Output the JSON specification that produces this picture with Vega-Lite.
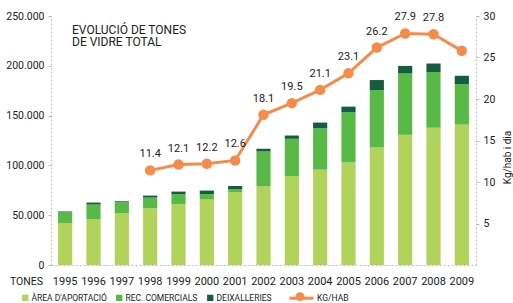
{
  "$schema": "https://vega.github.io/schema/vega-lite/v6.json",
  "width": 425,
  "height": 249,
  "autosize": {"type": "none"},
  "padding": {"left": 51, "top": 16, "right": 37, "bottom": 38},
  "background": "white",
  "config": {
    "view": {"stroke": null},
    "font": "Roboto",
    "axis": {"grid": false, "labelFont": "Roboto", "titleFont": "Roboto", "labelColor": "#222", "titleColor": "#222", "domainColor": "#bbbbbb", "domainDash": [2, 2], "tickColor": "#bbbbbb"},
    "legend": {"labelFont": "Roboto", "labelColor": "#222"},
    "title": {"font": "Roboto", "color": "#222"},
    "text": {"font": "Roboto"}
  },
  "title": {
    "text": ["EVOLUCIÓ DE TONES", "DE VIDRE TOTAL"],
    "anchor": "start",
    "frame": "group",
    "dx": 21,
    "dy": 42,
    "fontSize": 12,
    "fontWeight": "normal",
    "lineHeight": 12.5
  },
  "datasets": {
    "bars": [
      {"any": "1995", "tipus": "ÀREA D'APORTACIÓ", "ord": 1, "tones": 42000},
      {"any": "1995", "tipus": "REC. COMERCIALS", "ord": 2, "tones": 11300},
      {"any": "1995", "tipus": "DEIXALLERIES", "ord": 3, "tones": 500},
      {"any": "1996", "tipus": "ÀREA D'APORTACIÓ", "ord": 1, "tones": 46000},
      {"any": "1996", "tipus": "REC. COMERCIALS", "ord": 2, "tones": 14700},
      {"any": "1996", "tipus": "DEIXALLERIES", "ord": 3, "tones": 2000},
      {"any": "1997", "tipus": "ÀREA D'APORTACIÓ", "ord": 1, "tones": 52000},
      {"any": "1997", "tipus": "REC. COMERCIALS", "ord": 2, "tones": 11300},
      {"any": "1997", "tipus": "DEIXALLERIES", "ord": 3, "tones": 700},
      {"any": "1998", "tipus": "ÀREA D'APORTACIÓ", "ord": 1, "tones": 57000},
      {"any": "1998", "tipus": "REC. COMERCIALS", "ord": 2, "tones": 10700},
      {"any": "1998", "tipus": "DEIXALLERIES", "ord": 3, "tones": 2000},
      {"any": "1999", "tipus": "ÀREA D'APORTACIÓ", "ord": 1, "tones": 61300},
      {"any": "1999", "tipus": "REC. COMERCIALS", "ord": 2, "tones": 10000},
      {"any": "1999", "tipus": "DEIXALLERIES", "ord": 3, "tones": 2400},
      {"any": "2000", "tipus": "ÀREA D'APORTACIÓ", "ord": 1, "tones": 65700},
      {"any": "2000", "tipus": "REC. COMERCIALS", "ord": 2, "tones": 5600},
      {"any": "2000", "tipus": "DEIXALLERIES", "ord": 3, "tones": 3400},
      {"any": "2001", "tipus": "ÀREA D'APORTACIÓ", "ord": 1, "tones": 73300},
      {"any": "2001", "tipus": "REC. COMERCIALS", "ord": 2, "tones": 2700},
      {"any": "2001", "tipus": "DEIXALLERIES", "ord": 3, "tones": 3300},
      {"any": "2002", "tipus": "ÀREA D'APORTACIÓ", "ord": 1, "tones": 79000},
      {"any": "2002", "tipus": "REC. COMERCIALS", "ord": 2, "tones": 35000},
      {"any": "2002", "tipus": "DEIXALLERIES", "ord": 3, "tones": 2700},
      {"any": "2003", "tipus": "ÀREA D'APORTACIÓ", "ord": 1, "tones": 89300},
      {"any": "2003", "tipus": "REC. COMERCIALS", "ord": 2, "tones": 37400},
      {"any": "2003", "tipus": "DEIXALLERIES", "ord": 3, "tones": 3300},
      {"any": "2004", "tipus": "ÀREA D'APORTACIÓ", "ord": 1, "tones": 95700},
      {"any": "2004", "tipus": "REC. COMERCIALS", "ord": 2, "tones": 41600},
      {"any": "2004", "tipus": "DEIXALLERIES", "ord": 3, "tones": 5700},
      {"any": "2005", "tipus": "ÀREA D'APORTACIÓ", "ord": 1, "tones": 103000},
      {"any": "2005", "tipus": "REC. COMERCIALS", "ord": 2, "tones": 50300},
      {"any": "2005", "tipus": "DEIXALLERIES", "ord": 3, "tones": 5700},
      {"any": "2006", "tipus": "ÀREA D'APORTACIÓ", "ord": 1, "tones": 118000},
      {"any": "2006", "tipus": "REC. COMERCIALS", "ord": 2, "tones": 57700},
      {"any": "2006", "tipus": "DEIXALLERIES", "ord": 3, "tones": 10000},
      {"any": "2007", "tipus": "ÀREA D'APORTACIÓ", "ord": 1, "tones": 130700},
      {"any": "2007", "tipus": "REC. COMERCIALS", "ord": 2, "tones": 61600},
      {"any": "2007", "tipus": "DEIXALLERIES", "ord": 3, "tones": 7600},
      {"any": "2008", "tipus": "ÀREA D'APORTACIÓ", "ord": 1, "tones": 137800},
      {"any": "2008", "tipus": "REC. COMERCIALS", "ord": 2, "tones": 55900},
      {"any": "2008", "tipus": "DEIXALLERIES", "ord": 3, "tones": 8600},
      {"any": "2009", "tipus": "ÀREA D'APORTACIÓ", "ord": 1, "tones": 141000},
      {"any": "2009", "tipus": "REC. COMERCIALS", "ord": 2, "tones": 40700},
      {"any": "2009", "tipus": "DEIXALLERIES", "ord": 3, "tones": 8300}
    ],
    "kg": [
      {"any": "1998", "serie": "KG/HAB", "punt": "KG/HAB ", "kg": 11.4, "etiqueta": "11.4"},
      {"any": "1999", "serie": "KG/HAB", "punt": "KG/HAB ", "kg": 12.1, "etiqueta": "12.1"},
      {"any": "2000", "serie": "KG/HAB", "punt": "KG/HAB ", "kg": 12.2, "etiqueta": "12.2"},
      {"any": "2001", "serie": "KG/HAB", "punt": "KG/HAB ", "kg": 12.6, "etiqueta": "12.6"},
      {"any": "2002", "serie": "KG/HAB", "punt": "KG/HAB ", "kg": 18.1, "etiqueta": "18.1"},
      {"any": "2003", "serie": "KG/HAB", "punt": "KG/HAB ", "kg": 19.5, "etiqueta": "19.5"},
      {"any": "2004", "serie": "KG/HAB", "punt": "KG/HAB ", "kg": 21.1, "etiqueta": "21.1"},
      {"any": "2005", "serie": "KG/HAB", "punt": "KG/HAB ", "kg": 23.1, "etiqueta": "23.1"},
      {"any": "2006", "serie": "KG/HAB", "punt": "KG/HAB ", "kg": 26.2, "etiqueta": "26.2"},
      {"any": "2007", "serie": "KG/HAB", "punt": "KG/HAB ", "kg": 27.9, "etiqueta": "27.9"},
      {"any": "2008", "serie": "KG/HAB", "punt": "KG/HAB ", "kg": 27.8, "etiqueta": "27.8"},
      {"any": "2009", "serie": "KG/HAB", "punt": "KG/HAB ", "kg": 25.8, "etiqueta": ""}
    ]
  },
  "encoding": {
    "x": {
      "field": "any",
      "type": "ordinal",
      "scale": {"paddingInner": 0.5, "paddingOuter": 0.25},
      "axis": {"title": null, "ticks": false, "labelAngle": 0, "labelFontSize": 11, "labelPadding": 10}
    }
  },
  "layer": [
    {
      "data": {"name": "bars"},
      "mark": {"type": "bar"},
      "encoding": {
        "y": {
          "field": "tones",
          "type": "quantitative",
          "aggregate": "sum",
          "stack": "zero",
          "scale": {"domain": [0, 250000], "nice": false},
          "axis": {
            "values": [0, 50000, 100000, 150000, 200000, 250000],
            "labelExpr": "datum.value == 0 ? '0' : format(datum.value / 1000, 'd') + '.000'",
            "labelFontSize": 10.5,
            "tickSize": 3,
            "labelPadding": 4,
            "title": "TONES",
            "titleAngle": 0,
            "titleX": -25,
            "titleY": 265,
            "titleAlign": "center",
            "titleBaseline": "middle",
            "titleFontWeight": "normal",
            "titleFontSize": 10.5
          }
        },
        "fill": {
          "field": "tipus",
          "type": "nominal",
          "scale": {"domain": ["ÀREA D'APORTACIÓ", "REC. COMERCIALS", "DEIXALLERIES"], "range": ["#b1d25b", "#58b947", "#155c40"]},
          "legend": {
            "orient": "none",
            "legendX": -30,
            "legendY": 277.5,
            "direction": "horizontal",
            "title": null,
            "symbolType": "square",
            "symbolSize": 40,
            "symbolStrokeWidth": 0,
            "labelFontSize": 8.5,
            "labelOffset": 2,
            "columnPadding": 8
          }
        },
        "order": {"field": "ord", "type": "quantitative"}
      }
    },
    {
      "data": {"name": "kg"},
      "layer": [
        {
          "mark": {"type": "line", "strokeWidth": 3},
          "encoding": {
            "y": {
              "field": "kg",
              "type": "quantitative",
              "scale": {"domain": [0, 30], "nice": false},
              "axis": {
                "orient": "right",
                "values": [5, 10, 15, 20, 25, 30],
                "labelFontSize": 10.5,
                "tickSize": 3,
                "labelPadding": 4,
                "title": "Kg/hab i dia",
                "titleAngle": 270,
                "titleBaseline": "top",
                "titleAlign": "center",
                "titleY": 141,
                "titleFontWeight": "normal",
                "titleFontSize": 10,
                "titlePadding": 8
              }
            },
            "stroke": {
              "field": "serie",
              "type": "nominal",
              "scale": {"domain": ["KG/HAB"], "range": ["#f58c4b"]},
              "legend": {
                "orient": "none",
                "legendX": 237,
                "legendY": 268.7,
                "title": null,
                "symbolType": "stroke",
                "symbolSize": 576,
                "symbolStrokeWidth": 3,
                "labelFontSize": 8.5,
                "labelOffset": 2
              }
            }
          }
        },
        {
          "mark": {"type": "point", "filled": true, "size": 110, "color": "#f58c4b", "opacity": 1},
          "encoding": {
            "y": {"field": "kg", "type": "quantitative"},
            "shape": {
              "field": "punt",
              "type": "nominal",
              "scale": {"range": ["circle"]},
              "legend": {
                "orient": "none",
                "legendX": 244.5,
                "legendY": 276.2,
                "title": null,
                "symbolSize": 80,
                "symbolFillColor": "#f58c4b",
                "symbolStrokeWidth": 0,
                "labelFontSize": 8.5,
                "labelExpr": "''"
              }
            }
          }
        },
        {
          "mark": {"type": "text", "dy": -16, "fontSize": 11, "color": "#222"},
          "encoding": {"y": {"field": "kg", "type": "quantitative"}, "text": {"field": "etiqueta"}}
        }
      ]
    }
  ],
  "resolve": {"scale": {"y": "independent"}}
}
